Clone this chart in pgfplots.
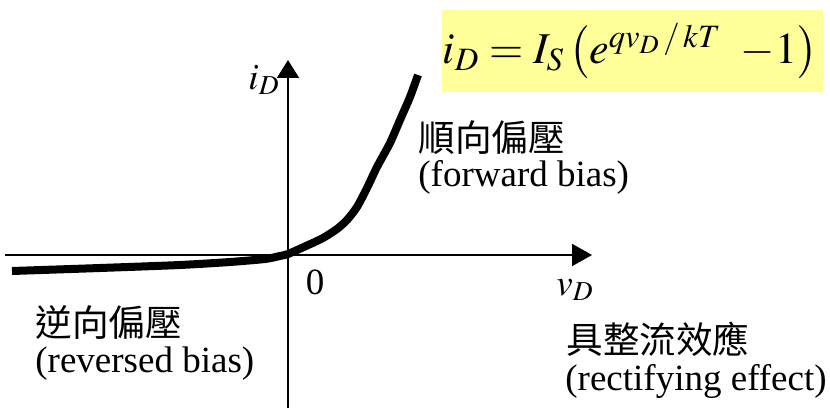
\documentclass[border=0pt]{standalone}
\usepackage{mathptmx}
\usepackage{fontspec}
\setmainfont{Liberation Serif}
\newfontfamily\cjk{Noto Sans CJK TC}
\usepackage{pgfplots}
\pgfplotsset{compat=1.18}
\usetikzlibrary{arrows.meta}
\definecolor{boxyellow}{RGB}{255,255,153}
\begin{document}
\begin{tikzpicture}
\begin{axis}[
  scale only axis, width=415pt, height=204pt,
  xmin=-288, xmax=542, ymin=-153, ymax=255,
  hide axis, clip=false,
]
\coordinate (bl) at (axis cs:-288,-153);
\coordinate (tr) at (axis cs:542,255);
% formula box
\fill[boxyellow] (axis cs:154,245) rectangle (axis cs:535,163);
\node[inner sep=0pt,font=\fontsize{22}{26}\selectfont] at (axis cs:342,204)
  {$i_D = I_S\left(e^{qv_D\,/\,kT}\;\;{-}1\right)$};
% axes
\draw[line width=1pt,-{Triangle[width=11pt,length=10pt]}] (axis cs:-283,0) -- (axis cs:304,0);
\draw[line width=1pt,-{Triangle[width=11pt,length=9pt]}] (axis cs:0,-153) -- (axis cs:0,195);
% characteristic curve
\addplot[line width=4pt, black, smooth, tension=0.4] coordinates {
  (-276,-16) (-188,-13) (-108,-10) (-58,-7) (-23,-4) (-8,-1) (0,1)
  (18,9) (35,17) (49,26) (59,35) (69,48) (79,67) (89,88) (102,112)
  (112,135) (122,158) (130,180)
};
% labels
\node[font=\fontsize{18.5}{22}\selectfont] at (axis cs:-24,175) {$i_D$};
\node[font=\fontsize{18.5}{22}\selectfont] at (axis cs:27,-27) {0};
\node[font=\fontsize{18.5}{22}\selectfont] at (axis cs:287,-35) {$v_D$};
\node[anchor=west,inner sep=0pt,font=\fontsize{18.3}{22}\selectfont\cjk] at (axis cs:130,117) {順向偏壓};
\node[anchor=west,inner sep=0pt,font=\fontsize{18.5}{22}\selectfont] at (axis cs:130,78) {(forward bias)};
\node[anchor=west,inner sep=0pt,font=\fontsize{18.3}{22}\selectfont\cjk] at (axis cs:-253,-67) {逆向偏壓};
\node[anchor=west,inner sep=0pt,font=\fontsize{18.5}{22}\selectfont] at (axis cs:-253,-109) {(reversed bias)};
\node[anchor=west,inner sep=0pt,font=\fontsize{18.3}{22}\selectfont\cjk] at (axis cs:278,-84) {具整流效應};
\node[anchor=west,inner sep=0pt,font=\fontsize{18.5}{22}\selectfont] at (axis cs:277,-126) {(rectifying effect)};
\end{axis}
\pgfresetboundingbox
\path (bl) rectangle (tr);
\end{tikzpicture}
\end{document}
